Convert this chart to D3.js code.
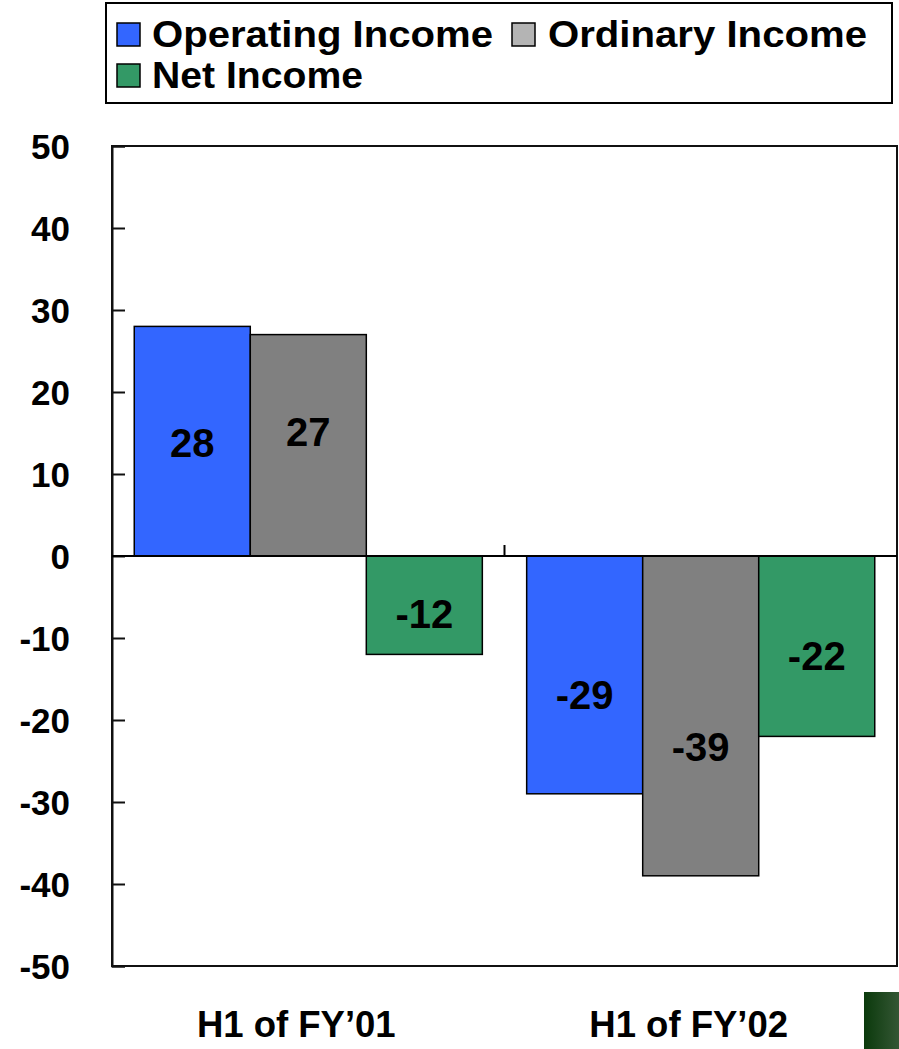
<!DOCTYPE html>
<html>
<head>
<meta charset="utf-8">
<script src="https://cdn.jsdelivr.net/npm/d3@7"></script>
<style>
  html, body { margin: 0; padding: 0; background: #fff; }
  svg { display: block; font-family: "Liberation Sans", Arial, sans-serif; font-weight: bold; }
</style>
</head>
<body>
<svg id="chart" width="899" height="1049"></svg>
<script>
// Half-year income results (billions of yen)
const categories = ["H1 of FY\u201901", "H1 of FY\u201902"];
const seriesNames = ["Operating Income", "Ordinary Income", "Net Income"];
const operatingIncome = [28, -29];
const ordinaryIncome = [27, -39];
const netIncome = [-12, -22];
const yTicks = [50, 40, 30, 20, 10, 0, -10, -20, -30, -40, -50];

const seriesValues = [operatingIncome, ordinaryIncome, netIncome];
const barColors = ["#3366FF", "#808080", "#339966"];
const swatchColors = ["#3366FF", "#B4B4B4", "#339966"];

const svg = d3.select("#chart");

// Plot frame
const plotLeft = 112, plotRight = 897, plotTop = 146, plotBottom = 966;

const y = d3.scaleLinear().domain([-50, 50]).range([plotBottom, plotTop]);
const x0 = d3.scaleBand().domain(categories).range([plotLeft, plotRight])
  .paddingInner(0.113).paddingOuter(0.0567);
const x1 = d3.scaleBand().domain(seriesNames).range([0, x0.bandwidth()]);

// Frame around the plotting area
svg.append("rect")
  .attr("x", plotLeft).attr("y", plotTop)
  .attr("width", plotRight - plotLeft).attr("height", plotBottom - plotTop)
  .attr("fill", "none").attr("stroke", "#111").attr("stroke-width", 2);

// Bars
const rows = [];
categories.forEach((c, ci) => {
  seriesNames.forEach((s, si) => rows.push({ cat: c, series: s, si, value: seriesValues[si][ci] }));
});

svg.append("g").selectAll("rect").data(rows).join("rect")
  .attr("x", d => x0(d.cat) + x1(d.series))
  .attr("y", d => y(Math.max(0, d.value)))
  .attr("width", x1.bandwidth())
  .attr("height", d => Math.abs(y(d.value) - y(0)))
  .attr("fill", d => barColors[d.si])
  .attr("stroke", "#000").attr("stroke-width", 1.5);

// Value labels, nudged off-centre a little for legibility
const labelNudge = { "28": 1, "27": -14, "-12": 8, "-29": 20, "-39": 31, "-22": 9 };
svg.append("g").selectAll("text").data(rows).join("text")
  .attr("x", d => x0(d.cat) + x1(d.series) + x1.bandwidth() / 2)
  .attr("y", d => (y(d.value) + y(0)) / 2 + (labelNudge[String(d.value)] || 0))
  .attr("dy", "0.36em")
  .attr("text-anchor", "middle")
  .attr("font-size", 40)
  .attr("fill", "#000")
  .text(d => d.value);

// Y axis with inward ticks
const yAxis = d3.axisRight(y).tickValues(yTicks).tickSize(13).tickFormat("");
const gy = svg.append("g").attr("transform", `translate(${plotLeft},0)`).call(yAxis);
gy.select(".domain").attr("stroke", "#111").attr("stroke-width", 2);
gy.selectAll(".tick line").attr("stroke", "#111").attr("stroke-width", 2);

svg.append("g").selectAll("text").data(yTicks).join("text")
  .attr("x", 70)
  .attr("y", d => y(d))
  .attr("dy", "0.36em")
  .attr("text-anchor", "end")
  .attr("font-size", 35)
  .text(d => d);

// Zero baseline and category divider
svg.append("line")
  .attr("x1", plotLeft).attr("x2", plotRight)
  .attr("y1", y(0)).attr("y2", y(0))
  .attr("stroke", "#000").attr("stroke-width", 2);

const dividers = categories.slice(1).map(c => x0(c) - x0.step() * x0.paddingInner() / 2);
svg.append("g").selectAll("line").data(dividers).join("line")
  .attr("x1", d => d).attr("x2", d => d)
  .attr("y1", y(0) - 11).attr("y2", y(0))
  .attr("stroke", "#000").attr("stroke-width", 2);

// Category labels
svg.append("g").selectAll("text").data(categories).join("text")
  .attr("x", d => x0(d) + x0.bandwidth() / 2 - 12)
  .attr("y", 1037)
  .attr("text-anchor", "middle")
  .attr("font-size", 36.5)
  .text(d => d);

// Legend
const legend = svg.append("g");
legend.append("rect")
  .attr("x", 106).attr("y", 3).attr("width", 786).attr("height", 100)
  .attr("fill", "#fff").attr("stroke", "#000").attr("stroke-width", 2);

const legendPos = [
  { sx: 117, tx: 152, base: 47, w: 341 },
  { sx: 512, tx: 548, base: 47, w: 319 },
  { sx: 117, tx: 152, base: 88, w: 211 }
];
const legendItems = legend.selectAll("g.item").data(seriesNames).join("g").attr("class", "item");
legendItems.append("rect")
  .attr("x", (d, i) => legendPos[i].sx)
  .attr("y", (d, i) => legendPos[i].base - 24)
  .attr("width", 23).attr("height", 23)
  .attr("fill", (d, i) => swatchColors[i])
  .attr("stroke", "#000").attr("stroke-width", 1.5);
legendItems.append("text")
  .attr("x", (d, i) => legendPos[i].tx)
  .attr("y", (d, i) => legendPos[i].base)
  .attr("font-size", 37)
  .attr("textLength", (d, i) => legendPos[i].w)
  .attr("lengthAdjust", "spacingAndGlyphs")
  .text(d => d);

// Corner tab
const grad = svg.append("defs").append("linearGradient").attr("id", "tab")
  .attr("x1", "0%").attr("x2", "100%").attr("y1", "0%").attr("y2", "0%");
grad.append("stop").attr("offset", "0%").attr("stop-color", "#0b3a0c");
grad.append("stop").attr("offset", "100%").attr("stop-color", "#345634");
svg.append("rect").attr("x", 864).attr("y", 992).attr("width", 35).attr("height", 57)
  .attr("fill", "url(#tab)");
</script>
</body>
</html>
